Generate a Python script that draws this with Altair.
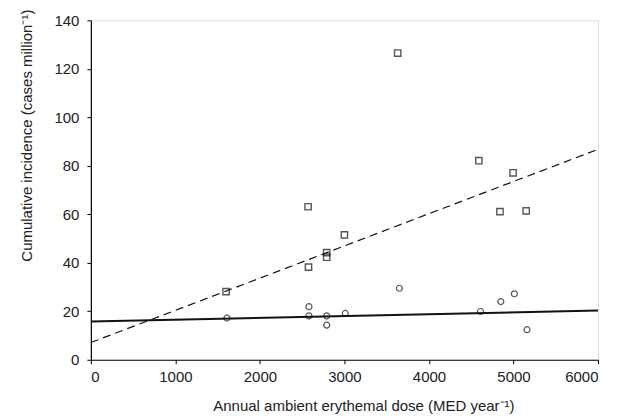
import altair as alt
import pandas as pd

# Squares (upper series)
sq_x = [1600, 2570, 3000, 2790, 2790, 2575, 3630, 4590, 4995, 4840, 5150]
sq_y = [28.1, 63.1, 51.5, 44.2, 42.3, 38.2, 126.5, 82.1, 77.1, 61.1, 61.4]

# Circles (lower series)
ci_x = [1610, 2580, 2580, 2790, 2790, 3010, 3650, 4610, 4850, 5010, 5160]
ci_y = [17.2, 21.9, 18.1, 18.1, 14.3, 19.1, 29.5, 19.9, 24.0, 27.2, 12.4]

# Fitted lines (endpoints)
fit_x = [0, 6000]
dash_y = [7.1, 86.8]
solid_y = [15.8, 20.3]

x_ticks = [0, 1000, 2000, 3000, 4000, 5000, 6000]
y_ticks = [0, 20, 40, 60, 80, 100, 120, 140]

FONT = "Liberation Sans"

sq = pd.DataFrame({"x": sq_x, "y": sq_y})
ci = pd.DataFrame({"x": ci_x, "y": ci_y})
dl = pd.DataFrame({"x": fit_x, "y": dash_y})
sl = pd.DataFrame({"x": fit_x, "y": solid_y})

xs = alt.Scale(domain=[0, 6000], nice=False, zero=False)
ys = alt.Scale(domain=[0, 140], nice=False, zero=False)

xaxis = alt.Axis(
    values=x_ticks, format="d", title="Annual ambient erythemal dose (MED year⁻¹)",
    grid=False, domainColor="#000", tickColor="#000", tickSize=4, domainWidth=1.2,
    labelFont=FONT, labelFontSize=15, labelColor="#222", labelPadding=6,
    titleFont=FONT, titleFontSize=15, titleFontWeight="normal", titleColor="#222",
    titleX=273, titleY=46, titleAlign="center", titleBaseline="middle",
)
yaxis = alt.Axis(
    values=y_ticks, format="d", title="Cumulative incidence (cases million⁻¹)",
    grid=False, domainColor="#000", tickColor="#000", tickSize=4, domainWidth=1.2,
    labelFont=FONT, labelFontSize=15, labelColor="#222", labelPadding=8,
    titleFont=FONT, titleFontSize=15, titleFontWeight="normal", titleColor="#222",
    titleX=-64, titleY=115, titleAngle=-90, titleAlign="center", titleBaseline="middle",
)

base_x = alt.X("x:Q", scale=xs, axis=xaxis)
base_y = alt.Y("y:Q", scale=ys, axis=yaxis)

dash = alt.Chart(dl).mark_line(color="#111", strokeWidth=1.2, strokeDash=[8, 5]).encode(x=base_x, y=base_y)
solid = alt.Chart(sl).mark_line(color="#111", strokeWidth=2).encode(x=base_x, y=base_y)
squares = alt.Chart(sq).mark_point(shape="square", filled=False, color="#111", size=40, strokeWidth=1.4).encode(x=base_x, y=base_y)
circles = alt.Chart(ci).mark_point(shape="circle", filled=False, color="#111", size=36, strokeWidth=1.2).encode(x=base_x, y=base_y)

chart = alt.layer(dash, solid, squares, circles).properties(
    width=508, height=340,
    autosize=alt.AutoSizeParams(type="none"),
    padding={"left": 83, "top": 12, "right": 12, "bottom": 58},
).configure_view(stroke=None).configure(background="white")

chart.save("out.html", embed_options={"renderer": "svg", "actions": False})
